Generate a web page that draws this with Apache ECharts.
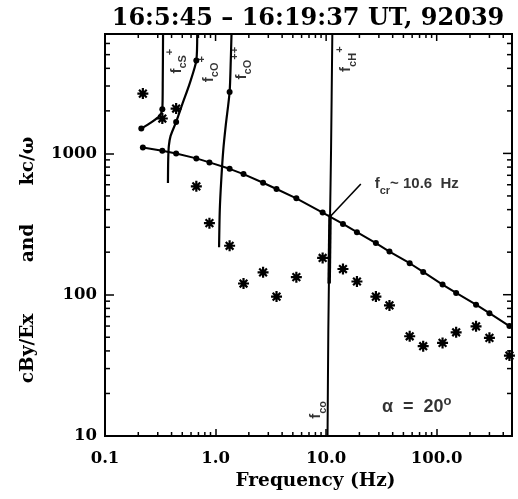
<!DOCTYPE html>
<html><head><meta charset="utf-8">
<script src="https://cdn.jsdelivr.net/npm/echarts@6/dist/echarts.min.js"></script>
<style>html,body{margin:0;padding:0;background:#fff}#c{width:518px;height:499px}</style>
</head><body><div id="c"></div>
<script>
// ---- data ----
const titleText = '16:5:45 \u2013 16:19:37 UT, 92039';
const xName = 'Frequency (Hz)';
const yName = 'cBy/Ex        and      kc/\u03c9';
const xMin = 0.1, xMax = 480;
const yMin = 10, yMax = 7000;
const xTickValues = [0.1, 1, 10, 100];
const xTickLabels = ['0.1', '1.0', '10.0', '100.0'];
const yTickValues = [10, 100, 1000];
const yTickLabels = ['10', '100', '1000'];
const xMinorTicks = [0.2,0.3,0.4,0.5,0.6,0.7,0.8,0.9,2,3,4,5,6,7,8,9,20,30,40,50,60,70,80,90,200,300,400];
const yMinorTicks = [20,30,40,50,60,70,80,90,200,300,400,500,600,700,800,900,2000,3000,4000,5000,6000];

// frequencies (Hz) of the spectral points
const freq = [0.22, 0.33, 0.44, 0.67, 0.88, 1.34, 1.79, 2.69, 3.56, 5.38, 9.3, 14.2, 19.0, 28.2, 37.4, 57, 75.5, 113, 150, 227, 300, 455];
// kc/omega (dots on line)
const kcOmega = [1102, 1043, 1000, 922, 864, 778, 714, 620, 560, 481, 381, 317, 277, 232, 202, 167, 145, 118, 103, 85, 74, 60];
// cBy/Ex (asterisks)
const cByEx = [2651, 1766, 2078, 585, 321, 222, 120, 144, 97, 133, 182, 152, 124, 97, 84, 50.8, 43.2, 45.6, 54.2, 59.7, 49.5, 37.1];

// other dispersion branches
const branchDotF = [0.213, 0.33, 0.44, 0.67, 1.34];
const branchDotV = [1501, 2054, 1671, 4550, 2720];
const cSBranchF = [0.213, 0.264, 0.312, 0.33, 0.333, 0.335];
const cSBranchV = [1501, 1663, 1849, 2054, 3300, 7000];
const cOBranchF = [0.371, 0.373, 0.378, 0.392, 0.44, 0.504, 0.584, 0.67, 0.6825];
const cOBranchV = [617, 900, 1130, 1330, 1671, 2265, 3133, 4550, 7000];
const cO2BranchF = [1.076, 1.092, 1.126, 1.174, 1.237, 1.34, 1.373, 1.394];
const cO2BranchV = [217, 398, 648, 1055, 1584, 2720, 4550, 7000];
const hBranchF = [10.30, 10.47, 10.67, 10.85, 11.08, 11.38];
const hBranchV = [10, 56.2, 176, 356, 1055, 7000];
const hThickF = [10.65, 10.85];
const hThickV = [120, 370];
const fcrPointerF = [10.85, 20.6];
const fcrPointerV = [356, 607];

// annotations (anchored in data space)
const annKeys = ['cS', 'cO', 'cO2', 'cH', 'co', 'fcr', 'alpha'];
const annF = [0.445, 0.868, 1.727, 15.15, 8.1, 66, 66];
const annV = [4495, 3945, 4352, 4645, 15.3, 607, 16.1];
const annText = ['{f|f}{s|cS}{p|+}', '{f|f}{s|cO}{p|+}', '{f|f}{s|cO}{p|++}', '{f|f}{s|cH}{p|+}', '{f|f}{s|co}', '{f|f}{s|cr}{t|~ 10.6  Hz}', '{a|\u03b1  =  20}{o|o}'];
const annRotate = [90, 90, 90, 90, 90, 0, 0];

// ---- chart ----
const pairs = (xs, ys) => xs.map((x, i) => [x, ys[i]]);
const starPath = 'path://M4 0L6 0L6 10L4 10Z M0 4L10 4L10 6L0 6Z M0.8 2.2L2.2 0.8L9.2 7.8L7.8 9.2Z M7.8 0.8L9.2 2.2L2.2 9.2L0.8 7.8Z';
const serif = "'DejaVu Serif', serif";
const sans = "'Liberation Sans', Arial, sans-serif";
const TICK = '#000';

function fmt(values, labels) {
  return function (v) {
    for (let i = 0; i < values.length; i++) {
      if (Math.abs(Math.log10(v) - Math.log10(values[i])) < 1e-6) return labels[i];
    }
    return '';
  };
}

const black = { fontFamily: sans, fontWeight: 'bold', color: '#000' };
const richAnn = {
  f: Object.assign({ fontSize: 15, lineHeight: 24, verticalAlign: 'middle' }, black),
  s: Object.assign({ fontSize: 11, lineHeight: 10, verticalAlign: 'bottom' }, black),
  p: Object.assign({ fontSize: 11, lineHeight: 10, verticalAlign: 'top' }, black),
  t: Object.assign({ fontSize: 15, lineHeight: 24, verticalAlign: 'middle' }, black),
  a: Object.assign({ fontSize: 18, lineHeight: 24, verticalAlign: 'middle' }, black),
  o: Object.assign({ fontSize: 13, lineHeight: 12, verticalAlign: 'top' }, black)
};

function tickMarks(name, data, size, offset) {
  return { name, type: 'scatter', data, symbol: 'rect', symbolSize: size, symbolOffset: offset,
    itemStyle: { color: TICK, opacity: 1 }, silent: true, clip: false, z: 5 };
}

function curve(name, xs, ys, w) {
  return { name, type: 'line', data: pairs(xs, ys), showSymbol: false, symbol: 'none',
    lineStyle: { color: '#000', width: w || 2.2 }, smooth: 0.25, z: 3 };
}

const chart = echarts.init(document.getElementById('c'), null, { renderer: 'canvas' });
chart.setOption({
  animation: false,
  backgroundColor: '#fff',
  graphic: [{
    type: 'text', x: 308, y: 19,
    style: { text: titleText, font: "bold 24px 'DejaVu Serif', serif", fill: '#000', align: 'center', verticalAlign: 'middle' }
  }, {
    type: 'text', x: 28, y: 260, rotation: Math.PI / 2,
    style: { text: yName, font: "bold 18.5px 'DejaVu Serif', serif", fill: '#000', align: 'center', verticalAlign: 'middle' }
  }],
  grid: { left: 105, right: 6, top: 34, bottom: 63, show: true, borderColor: '#000', borderWidth: 2, backgroundColor: 'transparent' },
  xAxis: {
    type: 'log', logBase: 10, min: xMin, max: xMax,
    name: xName, nameLocation: 'middle', nameGap: 29,
    nameTextStyle: { fontFamily: serif, fontWeight: 'bold', fontSize: 18.5, color: '#000', padding: [0, 0, 0, 14] },
    axisLine: { show: true, lineStyle: { color: '#000', width: 2 } }, splitLine: { show: false },
    axisTick: { show: true, inside: true, length: 7, lineStyle: { color: TICK, width: 1.5 } },
    axisLabel: { show: true, formatter: fmt(xTickValues, xTickLabels), fontFamily: serif, fontWeight: 'bold', fontSize: 16.5, color: '#000', margin: 14 }
  },
  yAxis: {
    type: 'log', logBase: 10, min: yMin, max: yMax,
    axisLine: { show: true, lineStyle: { color: '#000', width: 2 } }, splitLine: { show: false },
    axisTick: { show: true, inside: true, length: 9, lineStyle: { color: TICK, width: 1.5 } },
    axisLabel: { show: true, formatter: fmt(yTickValues, yTickLabels), fontFamily: serif, fontWeight: 'bold', fontSize: 16.5, color: '#000', margin: 8 }
  },
  series: [
    tickMarks('xMinorBottom', xMinorTicks.map(v => [v, yMin]), [1.5, 4], [0, -2]),
    tickMarks('xMinorTop', xMinorTicks.map(v => [v, yMax]), [1.5, 4], [0, 2]),
    tickMarks('xMajorTop', xTickValues.slice(1).map(v => [v, yMax]), [1.5, 7], [0, 3.5]),
    tickMarks('yMinorLeft', yMinorTicks.map(v => [xMin, v]), [5, 1.5], [2.5, 0]),
    tickMarks('yMinorRight', yMinorTicks.map(v => [xMax, v]), [5, 1.5], [-2.5, 0]),
    tickMarks('yMajorRight', yTickValues.slice(1).map(v => [xMax, v]), [9, 1.5], [-4.5, 0]),
    curve('fcS+ branch', cSBranchF, cSBranchV),
    curve('fcO+ branch', cOBranchF, cOBranchV),
    curve('fcO++ branch', cO2BranchF, cO2BranchV),
    curve('fcH+ branch', hBranchF, hBranchV, 2),
    { name: 'H thick', type: 'line', data: pairs(hThickF, hThickV), symbol: 'none', lineStyle: { color: '#000', width: 3.5 }, z: 3 },
    { name: 'fcr pointer', type: 'line', data: pairs(fcrPointerF, fcrPointerV), symbol: 'none', lineStyle: { color: '#000', width: 1.6 }, z: 3 },
    { name: 'branch dots', type: 'scatter', data: pairs(branchDotF, branchDotV), symbol: 'circle', symbolSize: 6, itemStyle: { color: '#000', opacity: 1 }, z: 4 },
    { name: 'kc/omega', type: 'line', data: pairs(freq, kcOmega), symbol: 'circle', symbolSize: 6, showSymbol: true, showAllSymbol: true,
      lineStyle: { color: '#000', width: 2 }, itemStyle: { color: '#000', borderWidth: 0, opacity: 1 }, z: 4 },
    { name: 'cBy/Ex', type: 'scatter', data: pairs(freq, cByEx), symbol: starPath, symbolSize: 11, itemStyle: { color: '#000', opacity: 1 }, z: 4 },
    { name: 'annotations', type: 'scatter', symbolSize: 0, silent: true, z: 6,
      data: annKeys.map((k, i) => ({ name: k, value: [annF[i], annV[i]],
        label: { show: true, position: 'inside', rotate: annRotate[i], formatter: annText[i], rich: richAnn, color: '#000' } })) }
  ]
});
</script></body></html>
